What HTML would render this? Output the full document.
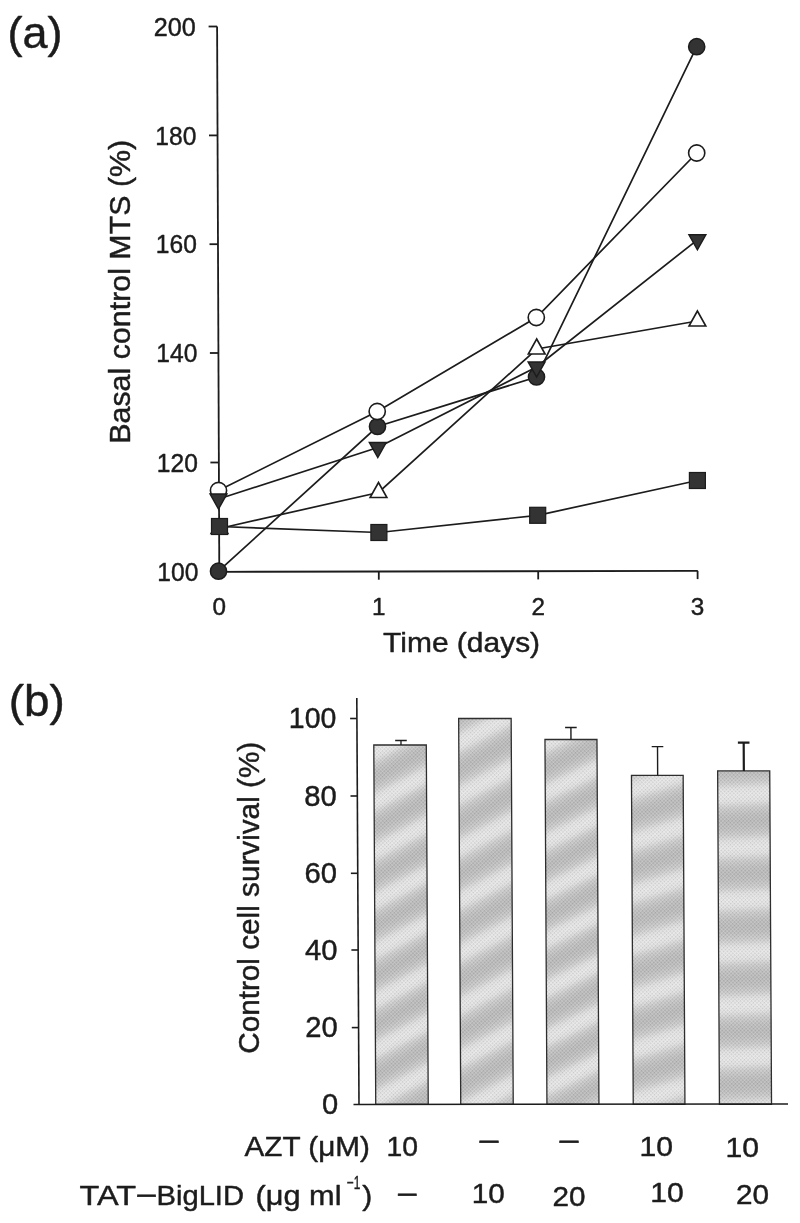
<!DOCTYPE html>
<html lang="en"><head><meta charset="utf-8"><title>Figure</title>
<style>html,body{margin:0;padding:0;background:#fff}body{width:800px;height:1223px;overflow:hidden}svg{display:block;will-change:transform;filter:grayscale(1)}text{font-family:"Liberation Sans", Arial, Helvetica, sans-serif;fill:#1c1c1c;stroke:#1c1c1c;stroke-width:0.45px;stroke-linejoin:round}</style>
</head><body>
<svg width="800" height="1223" viewBox="0 0 800 1223">
<defs>
<linearGradient id="g0" gradientUnits="userSpaceOnUse" x1="400.1" y1="764.0" x2="420.3" y2="803.0" spreadMethod="repeat">
<stop offset="0" stop-color="#bcbcbc"/><stop offset="0.12" stop-color="#c0c0c0"/><stop offset="0.25" stop-color="#cccccc"/><stop offset="0.38" stop-color="#e2e2e2"/><stop offset="0.5" stop-color="#e8e8e8"/><stop offset="0.62" stop-color="#e2e2e2"/><stop offset="0.75" stop-color="#cccccc"/><stop offset="0.88" stop-color="#c0c0c0"/><stop offset="1" stop-color="#bcbcbc"/>
</linearGradient>
<linearGradient id="g1" gradientUnits="userSpaceOnUse" x1="485.1" y1="755.5" x2="506.6" y2="797.0" spreadMethod="repeat">
<stop offset="0" stop-color="#bcbcbc"/><stop offset="0.12" stop-color="#c0c0c0"/><stop offset="0.25" stop-color="#cccccc"/><stop offset="0.38" stop-color="#e2e2e2"/><stop offset="0.5" stop-color="#e8e8e8"/><stop offset="0.62" stop-color="#e2e2e2"/><stop offset="0.75" stop-color="#cccccc"/><stop offset="0.88" stop-color="#c0c0c0"/><stop offset="1" stop-color="#bcbcbc"/>
</linearGradient>
<linearGradient id="g2" gradientUnits="userSpaceOnUse" x1="571.0" y1="756.0" x2="590.1" y2="795.8" spreadMethod="repeat">
<stop offset="0" stop-color="#bcbcbc"/><stop offset="0.12" stop-color="#c0c0c0"/><stop offset="0.25" stop-color="#cccccc"/><stop offset="0.38" stop-color="#e2e2e2"/><stop offset="0.5" stop-color="#e8e8e8"/><stop offset="0.62" stop-color="#e2e2e2"/><stop offset="0.75" stop-color="#cccccc"/><stop offset="0.88" stop-color="#c0c0c0"/><stop offset="1" stop-color="#bcbcbc"/>
</linearGradient>
<linearGradient id="g3" gradientUnits="userSpaceOnUse" x1="657.1" y1="808.0" x2="671.5" y2="855.7" spreadMethod="repeat">
<stop offset="0" stop-color="#bcbcbc"/><stop offset="0.12" stop-color="#c0c0c0"/><stop offset="0.25" stop-color="#cccccc"/><stop offset="0.38" stop-color="#e2e2e2"/><stop offset="0.5" stop-color="#e8e8e8"/><stop offset="0.62" stop-color="#e2e2e2"/><stop offset="0.75" stop-color="#cccccc"/><stop offset="0.88" stop-color="#c0c0c0"/><stop offset="1" stop-color="#bcbcbc"/>
</linearGradient>
<linearGradient id="g4" gradientUnits="userSpaceOnUse" x1="743.5" y1="821.0" x2="746.2" y2="873.4" spreadMethod="repeat">
<stop offset="0" stop-color="#bcbcbc"/><stop offset="0.12" stop-color="#c0c0c0"/><stop offset="0.25" stop-color="#cccccc"/><stop offset="0.38" stop-color="#e2e2e2"/><stop offset="0.5" stop-color="#e8e8e8"/><stop offset="0.62" stop-color="#e2e2e2"/><stop offset="0.75" stop-color="#cccccc"/><stop offset="0.88" stop-color="#c0c0c0"/><stop offset="1" stop-color="#bcbcbc"/>
</linearGradient>
<pattern id="ht" width="2.6" height="2.6" patternUnits="userSpaceOnUse" patternTransform="rotate(45)"><rect width="1.3" height="1.3" fill="#000" fill-opacity="0.13"/><rect x="1.3" y="1.3" width="1.3" height="1.3" fill="#fff" fill-opacity="0.18"/></pattern>
</defs>
<g id="panel-a">
<text x="7.5" y="47.5" font-size="43.5" textLength="55" lengthAdjust="spacingAndGlyphs">(a)</text>
<g stroke="#1c1c1c" stroke-width="1.8" fill="none" stroke-linecap="butt">
<path d="M217.1 26.5 L219.3 571.5"/>
<path d="M219.3 571.8 L697.8 570.9"/>
<path d="M208.6 26.5 L217.1 26.5"/>
<path d="M209.0 135.4 L217.5 135.4"/>
<path d="M209.5 244.2 L218.0 244.2"/>
<path d="M209.9 353.0 L218.4 353.0"/>
<path d="M210.4 462.5 L218.9 462.5"/>
<path d="M210.8 571.5 L219.3 571.5"/>
<path d="M378.8 571.5 L378.8 579.7"/>
<path d="M538.2 571.2 L538.2 579.4"/>
<path d="M697.6 570.9 L697.6 579.1"/>
</g>
<text x="195.8" y="35.6" font-size="25.5" text-anchor="end" textLength="42.0" lengthAdjust="spacingAndGlyphs">200</text>
<text x="196.3" y="144.5" font-size="25.5" text-anchor="end" textLength="41.0" lengthAdjust="spacingAndGlyphs">180</text>
<text x="196.8" y="253.3" font-size="25.5" text-anchor="end" textLength="41.0" lengthAdjust="spacingAndGlyphs">160</text>
<text x="197.3" y="362.1" font-size="25.5" text-anchor="end" textLength="41.0" lengthAdjust="spacingAndGlyphs">140</text>
<text x="197.8" y="471.6" font-size="25.5" text-anchor="end" textLength="41.0" lengthAdjust="spacingAndGlyphs">120</text>
<text x="198.3" y="580.6" font-size="25.5" text-anchor="end" textLength="41.0" lengthAdjust="spacingAndGlyphs">100</text>
<text x="219.2" y="614.5" font-size="24" text-anchor="middle" textLength="13.5" lengthAdjust="spacingAndGlyphs">0</text>
<text x="378.8" y="614.5" font-size="24" text-anchor="middle" textLength="13.5" lengthAdjust="spacingAndGlyphs">1</text>
<text x="538.2" y="614.5" font-size="24" text-anchor="middle" textLength="13.5" lengthAdjust="spacingAndGlyphs">2</text>
<text x="697.6" y="614.5" font-size="24" text-anchor="middle" textLength="13.5" lengthAdjust="spacingAndGlyphs">3</text>
<text x="461.6" y="651.6" font-size="27.5" text-anchor="middle" textLength="157" lengthAdjust="spacingAndGlyphs">Time (days)</text>
<text transform="translate(130.3 291.8) rotate(-90)" font-size="29.3" text-anchor="middle" textLength="304" lengthAdjust="spacingAndGlyphs">Basal control MTS (%)</text>
<polyline fill="none" stroke="#1c1c1c" stroke-width="1.7" points="218.5,571.2 377.5,426.5 536.5,377.0 696.7,46.7"/>
<circle cx="218.5" cy="571.2" r="8.1" fill="#333" stroke="#1c1c1c" stroke-width="1.5"/>
<circle cx="377.5" cy="426.5" r="8.1" fill="#333" stroke="#1c1c1c" stroke-width="1.5"/>
<circle cx="536.5" cy="377.0" r="8.1" fill="#333" stroke="#1c1c1c" stroke-width="1.5"/>
<circle cx="696.7" cy="46.7" r="8.1" fill="#333" stroke="#1c1c1c" stroke-width="1.5"/>
<polyline fill="none" stroke="#1c1c1c" stroke-width="1.7" points="218.5,490.5 377.2,411.5 536.3,317.5 696.7,153.0"/>
<circle cx="218.5" cy="490.5" r="8.1" fill="#fff" stroke="#1c1c1c" stroke-width="1.6"/>
<circle cx="377.2" cy="411.5" r="8.1" fill="#fff" stroke="#1c1c1c" stroke-width="1.6"/>
<circle cx="536.3" cy="317.5" r="8.1" fill="#fff" stroke="#1c1c1c" stroke-width="1.6"/>
<circle cx="696.7" cy="153.0" r="8.1" fill="#fff" stroke="#1c1c1c" stroke-width="1.6"/>
<polyline fill="none" stroke="#1c1c1c" stroke-width="1.7" points="218.5,499.0 377.8,447.5 536.6,367.0 697.4,239.8"/>
<path d="M210.1 494.0 L226.9 494.0 L218.5 509.0 Z" fill="#333" stroke="#1c1c1c" stroke-width="1.5" stroke-linejoin="miter"/>
<path d="M369.4 442.5 L386.2 442.5 L377.8 457.5 Z" fill="#333" stroke="#1c1c1c" stroke-width="1.5" stroke-linejoin="miter"/>
<path d="M528.2 362.0 L545.0 362.0 L536.6 377.0 Z" fill="#333" stroke="#1c1c1c" stroke-width="1.5" stroke-linejoin="miter"/>
<path d="M689.0 234.8 L705.8 234.8 L697.4 249.8 Z" fill="#333" stroke="#1c1c1c" stroke-width="1.5" stroke-linejoin="miter"/>
<polyline fill="none" stroke="#1c1c1c" stroke-width="1.7" points="219.5,528.5 378.5,492.5 536.7,349.0 697.4,321.0"/>
<path d="M211.1 533.5 L227.9 533.5 L219.5 518.5 Z" fill="#fff" stroke="#1c1c1c" stroke-width="1.6" stroke-linejoin="miter"/>
<path d="M370.1 497.5 L386.9 497.5 L378.5 482.5 Z" fill="#fff" stroke="#1c1c1c" stroke-width="1.6" stroke-linejoin="miter"/>
<path d="M528.3 354.0 L545.1 354.0 L536.7 339.0 Z" fill="#fff" stroke="#1c1c1c" stroke-width="1.6" stroke-linejoin="miter"/>
<path d="M689.0 326.0 L705.8 326.0 L697.4 311.0 Z" fill="#fff" stroke="#1c1c1c" stroke-width="1.6" stroke-linejoin="miter"/>
<polyline fill="none" stroke="#1c1c1c" stroke-width="1.7" points="219.5,526.5 378.9,532.5 537.7,515.3 697.4,480.5"/>
<rect x="211.5" y="518.5" width="16.0" height="16.0" fill="#333" stroke="#1c1c1c" stroke-width="1.2"/>
<rect x="370.9" y="524.5" width="16.0" height="16.0" fill="#333" stroke="#1c1c1c" stroke-width="1.2"/>
<rect x="529.7" y="507.3" width="16.0" height="16.0" fill="#333" stroke="#1c1c1c" stroke-width="1.2"/>
<rect x="689.4" y="472.5" width="16.0" height="16.0" fill="#333" stroke="#1c1c1c" stroke-width="1.2"/>
</g>
<g id="panel-b">
<text x="8.8" y="716" font-size="43.5" textLength="56" lengthAdjust="spacingAndGlyphs">(b)</text>
<g transform="matrix(1 0 0.0054 1 -4.023 0)">
<rect x="373.8" y="745.0" width="52.5" height="359.3" fill="url(#g0)"/>
<rect x="373.8" y="745.0" width="52.5" height="359.3" fill="url(#ht)" stroke="#2e2e2e" stroke-width="1.3"/>
<path d="M401.0 745.0 L401.0 740.5 M395.2 740.5 L406.8 740.5" stroke="#1c1c1c" stroke-width="1.3" fill="none"/>
<rect x="458.8" y="718.5" width="52.5" height="385.8" fill="url(#g1)"/>
<rect x="458.8" y="718.5" width="52.5" height="385.8" fill="url(#ht)" stroke="#2e2e2e" stroke-width="1.3"/>
<rect x="545.0" y="739.5" width="52.0" height="364.8" fill="url(#g2)"/>
<rect x="545.0" y="739.5" width="52.0" height="364.8" fill="url(#ht)" stroke="#2e2e2e" stroke-width="1.3"/>
<path d="M571.0 739.5 L571.0 727.5 M565.2 727.5 L576.8 727.5" stroke="#1c1c1c" stroke-width="1.4" fill="none"/>
<rect x="631.3" y="775.4" width="51.7" height="328.9" fill="url(#g3)"/>
<rect x="631.3" y="775.4" width="51.7" height="328.9" fill="url(#ht)" stroke="#2e2e2e" stroke-width="1.3"/>
<path d="M657.5 775.4 L657.5 746.6 M651.7 746.6 L663.3 746.6" stroke="#1c1c1c" stroke-width="1.4" fill="none"/>
<rect x="717.5" y="770.9" width="52.1" height="333.4" fill="url(#g4)"/>
<rect x="717.5" y="770.9" width="52.1" height="333.4" fill="url(#ht)" stroke="#2e2e2e" stroke-width="1.3"/>
<path d="M743.7 770.9 L743.7 742.7 M737.9 742.7 L749.5 742.7" stroke="#1c1c1c" stroke-width="2.2" fill="none"/>
</g>
<g stroke="#1c1c1c" stroke-width="1.6" fill="none">
<path d="M356.8 698 L359.0 1104.5"/>
<path d="M353.5 1104.5 L788 1104.0"/>
<path d="M350.1 718.5 L356.9 718.5"/>
<path d="M350.5 796.0 L357.3 796.0"/>
<path d="M350.9 873.3 L357.7 873.3"/>
<path d="M351.4 950.0 L358.2 950.0"/>
<path d="M351.8 1027.6 L358.6 1027.6"/>
</g>
<text x="336.3" y="728.3" font-size="29.5" text-anchor="end" textLength="47.5" lengthAdjust="spacingAndGlyphs">100</text>
<text x="336.7" y="805.8" font-size="29.5" text-anchor="end" textLength="32.5" lengthAdjust="spacingAndGlyphs">80</text>
<text x="337.1" y="883.1" font-size="29.5" text-anchor="end" textLength="32.5" lengthAdjust="spacingAndGlyphs">60</text>
<text x="337.5" y="959.8" font-size="29.5" text-anchor="end" textLength="32.5" lengthAdjust="spacingAndGlyphs">40</text>
<text x="337.8" y="1037.4" font-size="29.5" text-anchor="end" textLength="32.5" lengthAdjust="spacingAndGlyphs">20</text>
<text x="338.2" y="1114.3" font-size="29.5" text-anchor="end" textLength="16.2" lengthAdjust="spacingAndGlyphs">0</text>
<text transform="translate(259.2 897.8) rotate(-90)" font-size="29" text-anchor="middle" textLength="312" lengthAdjust="spacingAndGlyphs">Control cell survival (%)</text>
</g>
<g id="labels" font-size="28.2">
<text x="244.5" y="1156.2" textLength="125.5" lengthAdjust="spacingAndGlyphs">AZT (μM)</text>
<text y="1205"><tspan x="79.5" textLength="56.5" lengthAdjust="spacingAndGlyphs">TAT</tspan><tspan x="135.5" textLength="22" lengthAdjust="spacingAndGlyphs">−</tspan><tspan x="156.5" textLength="87.5" lengthAdjust="spacingAndGlyphs">BigLID</tspan><tspan x="247" textLength="94.5" lengthAdjust="spacingAndGlyphs"> (μg ml</tspan><tspan x="346.8" dy="-16.5" font-size="18.5" textLength="13.5" lengthAdjust="spacingAndGlyphs">−1</tspan><tspan x="362.3" dy="16.5" textLength="10" lengthAdjust="spacingAndGlyphs">)</tspan></text>
<text x="386.5" y="1156.2" textLength="31.5" lengthAdjust="spacingAndGlyphs">10</text>
<text x="477.8" y="1151.1" textLength="22.5" lengthAdjust="spacingAndGlyphs">−</text>
<text x="557.8" y="1151.1" textLength="22.5" lengthAdjust="spacingAndGlyphs">−</text>
<text x="639.5" y="1155.6" textLength="33.5" lengthAdjust="spacingAndGlyphs">10</text>
<text x="725.5" y="1156.5" textLength="33.5" lengthAdjust="spacingAndGlyphs">10</text>
<text x="396.3" y="1204.1" textLength="22.0" lengthAdjust="spacingAndGlyphs">−</text>
<text x="471.7" y="1203.3" textLength="33.0" lengthAdjust="spacingAndGlyphs">10</text>
<text x="552.5" y="1206.0" textLength="33.0" lengthAdjust="spacingAndGlyphs">20</text>
<text x="650.2" y="1202.1" textLength="33.5" lengthAdjust="spacingAndGlyphs">10</text>
<text x="736.0" y="1203.7" textLength="33.0" lengthAdjust="spacingAndGlyphs">20</text>
</g>
</svg>
</body></html>
